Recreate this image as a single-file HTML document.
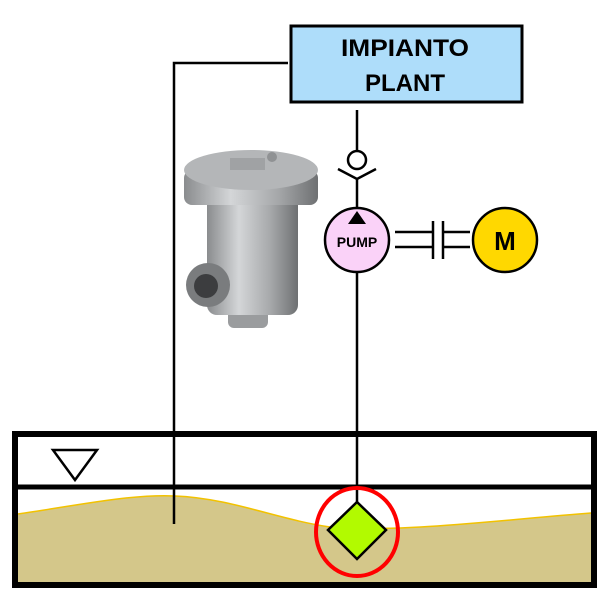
<!DOCTYPE html>
<html><head><meta charset="utf-8"><style>
html,body{margin:0;padding:0;background:#fff;width:600px;height:600px;overflow:hidden}
</style></head><body>
<svg width="600" height="600" viewBox="0 0 600 600" xmlns="http://www.w3.org/2000/svg">
<defs>
<linearGradient id="g" x1="0" x2="1"><stop offset="0" stop-color="#8a8c8e"/><stop offset="0.35" stop-color="#d4d6d8"/><stop offset="0.7" stop-color="#a6a8aa"/><stop offset="1" stop-color="#6e7072"/></linearGradient>
</defs>
<path d="M18,514 C80,505 130,494 175,496 C230,498 280,520 330,527 C400,533 500,520 591,513 L591,582 L18,582 Z" fill="#d4c78a"/>
<path d="M18,514 C80,505 130,494 175,496 C230,498 280,520 330,527 C400,533 500,520 591,513" fill="none" stroke="#f2c200" stroke-width="1.5"/>
<rect x="15" y="434" width="579" height="151" fill="none" stroke="#000" stroke-width="6"/>
<line x1="15" y1="487" x2="594" y2="487" stroke="#000" stroke-width="5"/>
<polygon points="53,450 97,450 75,480" fill="#fff" stroke="#000" stroke-width="2.5"/>
<polyline points="288,63 174,63 174,524" fill="none" stroke="#000" stroke-width="2.5"/>
<rect x="291" y="26" width="231" height="76" fill="#aeddfa" stroke="#000" stroke-width="3"/>
<text x="405" y="56" text-anchor="middle" font-family="Liberation Sans, sans-serif" font-weight="bold" font-size="24" textLength="128" lengthAdjust="spacingAndGlyphs">IMPIANTO</text>
<text x="405" y="91" text-anchor="middle" font-family="Liberation Sans, sans-serif" font-weight="bold" font-size="24">PLANT</text>
<rect x="228" y="305" width="40" height="23" rx="6" fill="#9a9c9e"/>
<rect x="207" y="195" width="91" height="120" rx="10" fill="url(#g)"/>
<circle cx="208" cy="285" r="22" fill="#7a7c7e"/>
<circle cx="206" cy="286" r="12" fill="#3c3d3f"/>
<rect x="184" y="170" width="134" height="35" rx="8" fill="url(#g)"/>
<ellipse cx="251" cy="170" rx="67" ry="20" fill="#b4b6b8"/>
<rect x="230" y="158" width="35" height="12" fill="#a0a2a4"/>
<circle cx="272" cy="157" r="5" fill="#909294"/>
<line x1="357" y1="110" x2="357" y2="150" stroke="#000" stroke-width="2.5"/>
<circle cx="357" cy="160" r="9" fill="#fff" stroke="#000" stroke-width="2.5"/>
<polyline points="338,169 357,179 376,169" fill="none" stroke="#000" stroke-width="2.5"/>
<line x1="357" y1="179" x2="357" y2="208" stroke="#000" stroke-width="2.5"/>
<line x1="357" y1="273" x2="357" y2="502" stroke="#000" stroke-width="2.5"/>
<circle cx="357" cy="240" r="32" fill="#fad2f8" stroke="#000" stroke-width="2.5"/>
<polygon points="348,224 366,224 357,211" fill="#000"/>
<text x="357" y="247" text-anchor="middle" font-family="Liberation Sans, sans-serif" font-weight="bold" font-size="14">PUMP</text>
<g stroke="#000" stroke-width="2.5">
<line x1="395" y1="232" x2="432" y2="232"/><line x1="395" y1="247" x2="432" y2="247"/>
<line x1="433" y1="221" x2="433" y2="259"/><line x1="443" y1="221" x2="443" y2="259"/>
<line x1="443" y1="232" x2="470" y2="232"/><line x1="443" y1="247" x2="470" y2="247"/>
</g>
<circle cx="505" cy="240" r="32" fill="#ffd800" stroke="#000" stroke-width="2.5"/>
<text x="505" y="250" text-anchor="middle" font-family="Liberation Sans, sans-serif" font-weight="bold" font-size="26">M</text>
<ellipse cx="357" cy="532" rx="41" ry="44" fill="none" stroke="#f00" stroke-width="4"/>
<polygon points="357,502 386,530 357,559 328,530" fill="#b2fa00" stroke="#000" stroke-width="2.5"/>
</svg>
</body></html>
